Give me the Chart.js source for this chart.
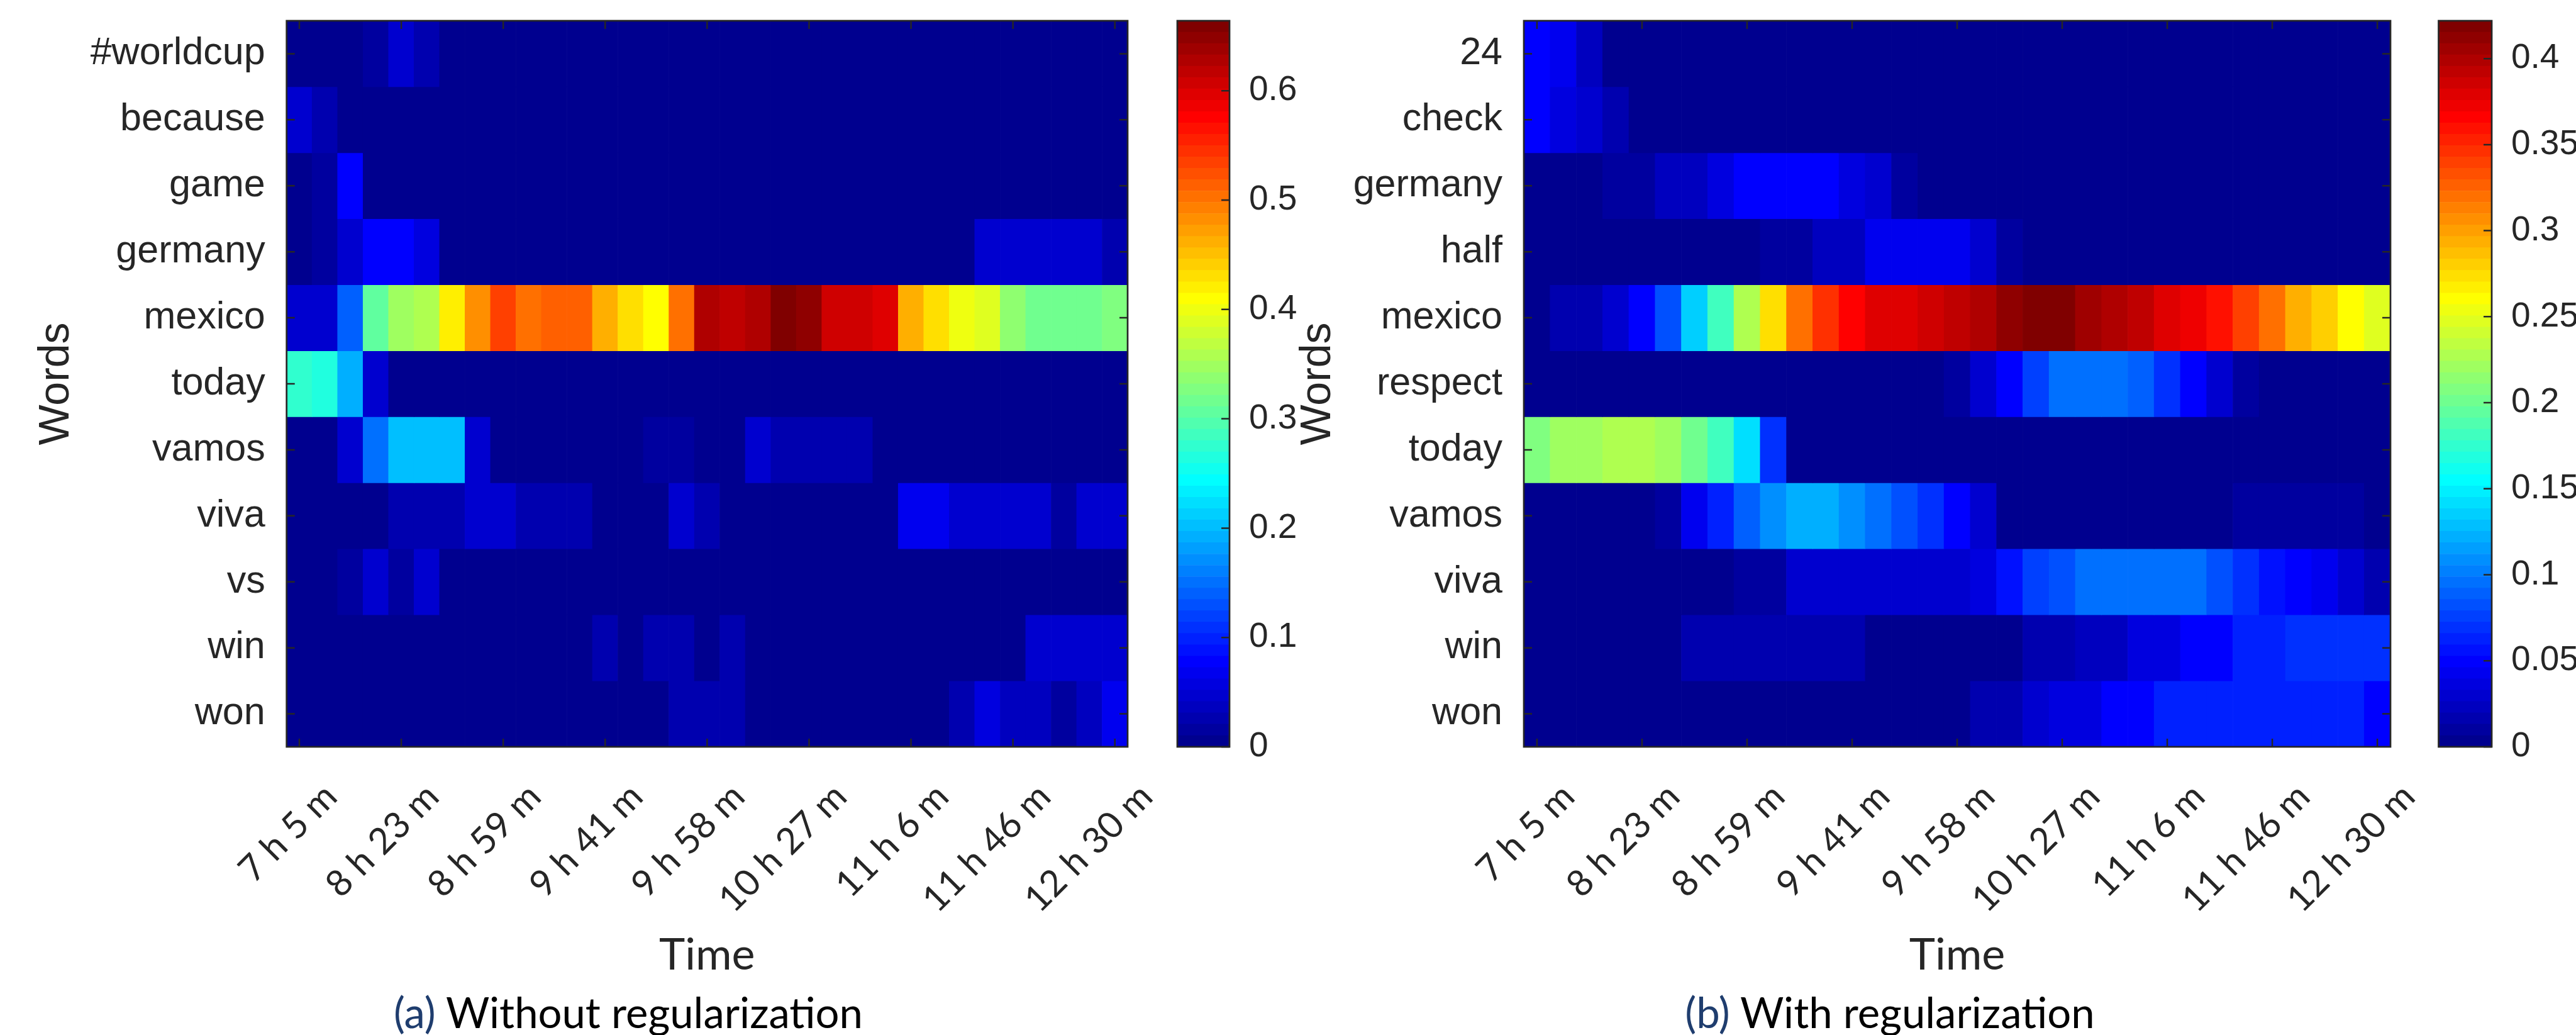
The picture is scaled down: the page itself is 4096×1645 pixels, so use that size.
<!DOCTYPE html>
<html>
<head>
<meta charset="utf-8">
<title>Word weights over time</title>
<script src="https://cdn.jsdelivr.net/npm/chart.js@4.4.1/dist/chart.umd.min.js"></script>
<style>
  body { margin: 0; width: 4096px; height: 1645px; position: relative; overflow: hidden; background: #fff; }
  canvas { position: absolute; top: 0; }
  .cap { position: absolute; width: 1400px; text-align: center; white-space: nowrap;
         font-family: Lato, sans-serif; font-size: 67px; line-height: 67px; color: #000; }
  .cap span { color: #1f3d6e; }
</style>
</head>
<body>
<canvas id="heatA" width="1850" height="1645" style="left:0px"></canvas>
<canvas id="barA" width="420" height="1645" style="left:1850px"></canvas>
<canvas id="heatB" width="1830" height="1645" style="left:2030px"></canvas>
<canvas id="barB" width="236" height="1645" style="left:3860px"></canvas>
<div class="cap" style="left:299px; top:1575px;"><span>(a)</span> Without regularization</div>
<div class="cap" style="left:2305px; top:1575px;"><span>(b)</span> With regularization</div>

<script>
// time slots (columns) and the labels shown on every 4th one
const columns = [1, 2, 3, 4, 5, 6, 7, 8, 9, 10, 11, 12, 13, 14, 15, 16, 17,
                 18, 19, 20, 21, 22, 23, 24, 25, 26, 27, 28, 29, 30, 31, 32, 33];
const timeLabels = ['7 h 5 m', '8 h 23 m', '8 h 59 m', '9 h 41 m', '9 h 58 m',
                    '10 h 27 m', '11 h 6 m', '11 h 46 m', '12 h 30 m'];

// (a) without regularization
const wordsA = ['#worldcup', 'because', 'game', 'germany', 'mexico', 'today',
                'vamos', 'viva', 'vs', 'win', 'won'];
const valuesA = [
  // #worldcup
  [0, 0, 0, 0.016, 0.047, 0.026, 0, 0, 0, 0, 0, 0, 0, 0, 0, 0, 0, 0, 0, 0, 0, 0, 0, 0, 0, 0, 0, 0, 0, 0, 0, 0, 0],
  // because
  [0.047, 0.026, 0, 0, 0, 0, 0, 0, 0, 0, 0, 0, 0, 0, 0, 0, 0, 0, 0, 0, 0, 0, 0, 0, 0, 0, 0, 0, 0, 0, 0, 0, 0],
  // game
  [0, 0.016, 0.078, 0, 0, 0, 0, 0, 0, 0, 0, 0, 0, 0, 0, 0, 0, 0, 0, 0, 0, 0, 0, 0, 0, 0, 0, 0, 0, 0, 0, 0, 0],
  // germany
  [0, 0.016, 0.047, 0.078, 0.078, 0.062, 0, 0, 0, 0, 0, 0, 0, 0, 0, 0, 0, 0, 0, 0, 0, 0, 0, 0, 0, 0, 0, 0.047, 0.047, 0.047, 0.047, 0.047, 0.026],
  // mexico
  [0.047, 0.047, 0.140, 0.307, 0.348, 0.358, 0.421, 0.483, 0.535, 0.504, 0.514, 0.514, 0.462, 0.431, 0.410, 0.504, 0.628,
   0.618, 0.628, 0.660, 0.649, 0.608, 0.608, 0.597, 0.462, 0.431, 0.400, 0.390, 0.338, 0.317, 0.317, 0.317, 0.327],
  // today
  [0.270, 0.260, 0.192, 0.047, 0, 0, 0, 0, 0, 0, 0, 0, 0, 0, 0, 0, 0, 0, 0, 0, 0, 0, 0, 0, 0, 0, 0, 0, 0, 0, 0, 0, 0],
  // vamos
  [0, 0, 0.047, 0.151, 0.203, 0.203, 0.203, 0.047, 0, 0, 0, 0, 0, 0, 0.016, 0.016, 0, 0, 0.047, 0.026, 0.026, 0.026, 0.026, 0, 0, 0, 0, 0, 0, 0, 0, 0, 0],
  // viva
  [0, 0, 0, 0, 0.026, 0.026, 0.026, 0.047, 0.047, 0.026, 0.026, 0.026, 0, 0, 0, 0.047, 0.026, 0, 0, 0, 0, 0, 0, 0, 0.068, 0.068, 0.047, 0.047, 0.047, 0.047, 0.016, 0.047, 0.047],
  // vs
  [0, 0, 0.016, 0.047, 0.016, 0.047, 0, 0, 0, 0, 0, 0, 0, 0, 0, 0, 0, 0, 0, 0, 0, 0, 0, 0, 0, 0, 0, 0, 0, 0, 0, 0, 0],
  // win
  [0, 0, 0, 0, 0, 0, 0, 0, 0, 0, 0, 0, 0.026, 0, 0.026, 0.026, 0, 0.026, 0, 0, 0, 0, 0, 0, 0, 0, 0, 0, 0, 0.047, 0.047, 0.047, 0.047],
  // won
  [0, 0, 0, 0, 0, 0, 0, 0, 0, 0, 0, 0, 0, 0, 0, 0.026, 0.026, 0.026, 0, 0, 0, 0, 0, 0, 0, 0, 0.026, 0.057, 0.036, 0.036, 0.016, 0.036, 0.068]
];
const maxA = 0.664;
const colorTicksA = [0, 0.1, 0.2, 0.3, 0.4, 0.5, 0.6];

// (b) with regularization
const wordsB = ['24', 'check', 'germany', 'half', 'mexico', 'respect', 'today',
                'vamos', 'viva', 'win', 'won'];
const valuesB = [
  // 24
  [0.049, 0.040, 0.023, 0, 0, 0, 0, 0, 0, 0, 0, 0, 0, 0, 0, 0, 0, 0, 0, 0, 0, 0, 0, 0, 0, 0, 0, 0, 0, 0, 0, 0, 0],
  // check
  [0.049, 0.036, 0.030, 0.016, 0, 0, 0, 0, 0, 0, 0, 0, 0, 0, 0, 0, 0, 0, 0, 0, 0, 0, 0, 0, 0, 0, 0, 0, 0, 0, 0, 0, 0],
  // germany
  [0, 0, 0, 0.013, 0.013, 0.023, 0.023, 0.036, 0.049, 0.049, 0.049, 0.049, 0.036, 0.030, 0.010, 0, 0, 0, 0, 0, 0, 0, 0, 0, 0, 0, 0, 0, 0, 0, 0, 0, 0],
  // half
  [0, 0, 0, 0, 0, 0, 0, 0, 0, 0.010, 0.010, 0.023, 0.023, 0.040, 0.040, 0.040, 0.040, 0.030, 0.013, 0, 0, 0, 0, 0, 0, 0, 0, 0, 0, 0, 0, 0, 0],
  // mexico
  [0, 0.016, 0.016, 0.030, 0.049, 0.082, 0.135, 0.181, 0.227, 0.273, 0.320, 0.349, 0.366, 0.379, 0.379, 0.385, 0.395,
   0.399, 0.412, 0.418, 0.418, 0.408, 0.399, 0.392, 0.379, 0.372, 0.359, 0.339, 0.320, 0.293, 0.280, 0.260, 0.247],
  // respect
  [0, 0, 0, 0, 0, 0, 0, 0, 0, 0, 0, 0, 0, 0, 0, 0, 0.010, 0.030, 0.049, 0.076, 0.096, 0.096, 0.096, 0.089, 0.069, 0.049, 0.030, 0.010, 0, 0, 0, 0, 0],
  // today
  [0.208, 0.221, 0.221, 0.227, 0.227, 0.221, 0.204, 0.181, 0.145, 0.069, 0, 0, 0, 0, 0, 0, 0, 0, 0, 0, 0, 0, 0, 0, 0, 0, 0, 0, 0, 0, 0, 0, 0],
  // vamos
  [0, 0, 0, 0, 0, 0.010, 0.043, 0.063, 0.089, 0.109, 0.122, 0.122, 0.109, 0.096, 0.082, 0.069, 0.049, 0.030, 0, 0, 0, 0, 0, 0, 0, 0, 0, 0.013, 0.013, 0.013, 0.013, 0.013, 0],
  // viva
  [0, 0, 0, 0, 0, 0, 0, 0, 0.010, 0.010, 0.030, 0.030, 0.030, 0.030, 0.030, 0.030, 0.030, 0.036, 0.056, 0.076, 0.082, 0.096, 0.096, 0.096, 0.096, 0.096, 0.082, 0.069, 0.056, 0.049, 0.043, 0.030, 0.016],
  // win
  [0, 0, 0, 0, 0, 0, 0.016, 0.016, 0.016, 0.016, 0.016, 0.016, 0.016, 0, 0, 0, 0, 0, 0, 0.016, 0.016, 0.023, 0.023, 0.036, 0.036, 0.049, 0.049, 0.063, 0.063, 0.069, 0.069, 0.069, 0.069],
  // won
  [0, 0, 0, 0, 0, 0, 0, 0, 0, 0, 0, 0, 0, 0, 0, 0, 0, 0.016, 0.016, 0.030, 0.036, 0.036, 0.049, 0.049, 0.063, 0.063, 0.063, 0.063, 0.063, 0.063, 0.063, 0.063, 0.049]
];
const maxB = 0.422;
const colorTicksB = [0, 0.05, 0.1, 0.15, 0.2, 0.25, 0.3, 0.35, 0.4];

const ink = '#262626';

// MATLAB jet with 64 levels
function jetIndex(k) {
  let r = 0, g = 0, b = 0;
  if (k < 8) { b = 0.5625 + 0.0625 * k; }
  else if (k < 24) { g = 0.0625 * (k - 7); b = 1; }
  else if (k < 40) { r = 0.0625 * (k - 23); g = 1; b = 1 - 0.0625 * (k - 23); }
  else if (k < 56) { r = 1; g = 1 - 0.0625 * (k - 39); }
  else { r = 1 - 0.0625 * (k - 55); }
  return 'rgb(' + Math.round(r * 255) + ',' + Math.round(g * 255) + ',' + Math.round(b * 255) + ')';
}
function jet(v, max) {
  return jetIndex(Math.max(0, Math.min(63, Math.floor(v / max * 64))));
}

// box around the plot area with matlab style inward ticks
const frame = {
  id: 'frame',
  afterDatasetsDraw(chart, args, o) {
    const { ctx, chartArea: a } = chart;
    ctx.save();
    ctx.strokeStyle = ink;
    ctx.lineWidth = 2.5;
    ctx.beginPath();
    if (o.xTicks) {
      const sx = chart.scales.x;
      sx.ticks.forEach((t, i) => {
        const x = sx.getPixelForTick(i);
        ctx.moveTo(x, a.bottom); ctx.lineTo(x, a.bottom - o.len);
        ctx.moveTo(x, a.top); ctx.lineTo(x, a.top + o.len);
      });
    }
    const sy = chart.scales.y;
    sy.ticks.forEach((t, i) => {
      const y = sy.getPixelForTick(i);
      if (o.leftTicks) { ctx.moveTo(a.left, y); ctx.lineTo(a.left + o.len, y); }
      ctx.moveTo(a.right, y); ctx.lineTo(a.right - o.len, y);
    });
    ctx.stroke();
    ctx.lineWidth = 2.7;
    ctx.strokeRect(a.left, a.top, a.right - a.left, a.bottom - a.top);
    ctx.restore();
  }
};

function heatmap(id, words, values, max, yWidth, padRight, titlePad) {
  const datasets = words.map((w, r) => ({
    label: w,
    data: columns.map(() => [r + 0.5, r + 1.5]),
    backgroundColor: values[r].map(v => jet(v, max)),
    grouped: false,
    barPercentage: 1,
    categoryPercentage: 1,
    borderWidth: 0
  }));
  return new Chart(document.getElementById(id), {
    type: 'bar',
    data: { labels: columns, datasets: datasets },
    options: {
      responsive: false,
      animation: false,
      layout: { padding: { left: 0, top: 33, right: padRight, bottom: 0 } },
      plugins: {
        legend: { display: false },
        tooltip: { enabled: false },
        frame: { xTicks: true, leftTicks: true, len: 13 }
      },
      scales: {
        x: {
          type: 'category',
          grid: { display: false },
          border: { display: false },
          afterBuildTicks: s => { s.ticks = s.ticks.filter(t => t.value % 4 === 0); },
          afterFit: s => { s.height = 458; s.paddingLeft = 0; s.paddingRight = 0; },
          ticks: {
            autoSkip: false, minRotation: 45, maxRotation: 45,
            padding: 37, labelOffset: 50, color: ink,
            font: { family: 'Lato', size: 58 },
            callback: (v, i) => timeLabels[i]
          },
          title: {
            display: true, text: 'Time', color: ink,
            font: { family: 'Lato', size: 70 },
            padding: { top: 0, bottom: 85 }
          }
        },
        y: {
          type: 'linear', min: 0.5, max: 11.5, reverse: true,
          grid: { display: false },
          border: { display: false },
          afterBuildTicks: s => { s.ticks = words.map((w, i) => ({ value: i + 1 })); },
          afterFit: s => { s.width = yWidth; s.paddingTop = 0; s.paddingBottom = 0; },
          ticks: {
            padding: 26, color: ink,
            font: { family: 'Liberation Sans', size: 61 },
            callback: v => words[v - 1]
          },
          title: {
            display: true, text: 'Words', color: ink,
            font: { family: 'Liberation Sans', size: 68 },
            padding: { top: titlePad, bottom: 0 }
          }
        }
      }
    },
    plugins: [frame]
  });
}

function colorbar(id, max, ticks, padLeft, axisWidth) {
  const datasets = [];
  for (let k = 0; k < 64; k++) {
    datasets.push({
      data: [[k * max / 64, (k + 1) * max / 64]],
      backgroundColor: jetIndex(k),
      grouped: false,
      barPercentage: 1,
      categoryPercentage: 1,
      borderWidth: 0
    });
  }
  return new Chart(document.getElementById(id), {
    type: 'bar',
    data: { labels: ['c'], datasets: datasets },
    options: {
      responsive: false,
      animation: false,
      layout: { padding: { left: padLeft, top: 33, right: 0, bottom: 458 } },
      plugins: {
        legend: { display: false },
        tooltip: { enabled: false },
        frame: { xTicks: false, leftTicks: false, len: 13 }
      },
      scales: {
        x: { display: false },
        y: {
          position: 'right', min: 0, max: max,
          grid: { display: false },
          border: { display: false },
          afterBuildTicks: s => { s.ticks = ticks.map(v => ({ value: v })); },
          afterFit: s => { s.width = axisWidth; s.paddingTop = 0; s.paddingBottom = 0; },
          ticks: {
            padding: 23, color: ink,
            font: { family: 'Liberation Sans', size: 55 },
            callback: v => String(v)
          }
        }
      }
    },
    plugins: [frame]
  });
}

heatmap('heatA', wordsA, valuesA, maxA, 455.7, 57, 49.7);
colorbar('barA', maxA, colorTicksA, 22, 315);
heatmap('heatB', wordsB, valuesB, maxB, 393, 59, 25.7);
colorbar('barB', maxB, colorTicksB, 17.5, 134);
</script>
</body>
</html>
